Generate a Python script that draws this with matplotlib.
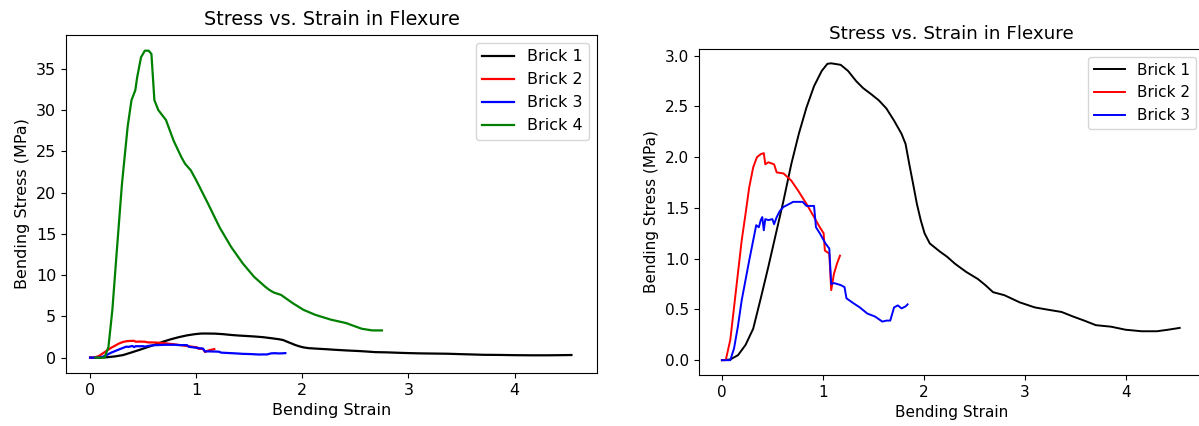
import matplotlib
matplotlib.use("Agg")
import matplotlib.pyplot as plt

# ---------------- data ----------------
brick1_x = [0.0, 0.083, 0.16, 0.234, 0.31, 0.385, 0.46, 0.536, 0.61, 0.687, 0.762, 0.838,
            0.913, 0.989, 1.045, 1.083, 1.177, 1.25, 1.33, 1.40, 1.48, 1.555, 1.63, 1.706,
            1.78, 1.82, 1.857, 1.894, 1.932, 1.97, 2.008, 2.06, 2.16, 2.23, 2.31, 2.42,
            2.536, 2.61, 2.687, 2.8, 2.95, 3.10, 3.215, 3.366, 3.48, 3.59, 3.705, 3.856,
            4.0, 4.16, 4.31, 4.42, 4.536]
brick1_y = [0.0, 0.007, 0.05, 0.15, 0.31, 0.61, 0.92, 1.25, 1.57, 1.93, 2.23, 2.49,
            2.70, 2.85, 2.92, 2.925, 2.91, 2.85, 2.75, 2.68, 2.62, 2.56, 2.48, 2.36,
            2.23, 2.13, 1.93, 1.74, 1.54, 1.38, 1.25, 1.15, 1.07, 1.02, 0.95, 0.87,
            0.80, 0.74, 0.67, 0.64, 0.57, 0.52, 0.50, 0.475, 0.43, 0.39, 0.345, 0.33,
            0.30, 0.285, 0.285, 0.30, 0.318]

brick2_x = [0.0, 0.038, 0.083, 0.12, 0.158, 0.196, 0.234, 0.27, 0.31, 0.347, 0.385, 0.415,
            0.43, 0.46, 0.517, 0.543, 0.61, 0.687, 0.762, 0.838, 0.913, 0.97, 1.008,
            1.02, 1.064, 1.083, 1.11, 1.14, 1.17]
brick2_y = [0.0, 0.0, 0.2, 0.52, 0.85, 1.18, 1.44, 1.70, 1.90, 2.00, 2.03, 2.04,
            1.93, 1.95, 1.93, 1.85, 1.84, 1.77, 1.66, 1.54, 1.41, 1.31, 1.25,
            1.08, 1.05, 0.69, 0.85, 0.95, 1.03]

brick3_x = [0.0, 0.083, 0.12, 0.158, 0.196, 0.234, 0.27, 0.31, 0.34, 0.366, 0.385, 0.40,
            0.415, 0.43, 0.46, 0.50, 0.517, 0.543, 0.574, 0.61, 0.65, 0.706, 0.80, 0.838,
            0.913, 0.932, 0.97, 1.026, 1.064, 1.083, 1.11, 1.177, 1.215, 1.234, 1.29,
            1.366, 1.44, 1.517, 1.59, 1.63, 1.668, 1.706, 1.743, 1.78, 1.82, 1.84]
brick3_y = [0.0, 0.0, 0.115, 0.33, 0.59, 0.79, 0.98, 1.18, 1.33, 1.31, 1.38, 1.41,
            1.28, 1.39, 1.38, 1.39, 1.34, 1.41, 1.47, 1.51, 1.53, 1.56, 1.56, 1.52,
            1.52, 1.31, 1.25, 1.15, 1.10, 0.75, 0.76, 0.74, 0.72, 0.61, 0.57,
            0.52, 0.46, 0.43, 0.38, 0.39, 0.39, 0.52, 0.54, 0.51, 0.53, 0.55]

brick4_x = [0.05, 0.137, 0.173, 0.21, 0.245, 0.30, 0.354, 0.39, 0.426, 0.444, 0.48, 0.516,
            0.552, 0.578, 0.606, 0.643, 0.715, 0.787, 0.86, 0.895, 0.949, 1.00, 1.11,
            1.22, 1.33, 1.44, 1.545, 1.65, 1.69, 1.73, 1.80, 1.91, 2.01, 2.12, 2.27,
            2.41, 2.56, 2.66, 2.75]
brick4_y = [0.0, 0.0, 1.3, 5.8, 11.8, 21.0, 28.0, 31.2, 32.4, 34.0, 36.4, 37.2,
            37.2, 36.8, 31.2, 30.0, 28.8, 26.3, 24.3, 23.5, 22.7, 21.5, 18.7,
            15.8, 13.4, 11.4, 9.8, 8.6, 8.2, 7.9, 7.6, 6.6, 5.8, 5.2, 4.6,
            4.2, 3.5, 3.3, 3.3]

labels = ["Brick 1", "Brick 2", "Brick 3", "Brick 4"]
colors = ["k", "r", "b", "g"]
title = "Stress vs. Strain in Flexure"
xlabel = "Bending Strain"
ylabel = "Bending Stress (MPa)"

W, H = 1199, 426
fig = plt.figure(figsize=(W / 100, H / 100), dpi=100)

def px_axes(x0, y0, x1, y1):
    return fig.add_axes([x0 / W, 1 - y1 / H, (x1 - x0) / W, (y1 - y0) / H])

# ---------------- left chart ----------------
ax1 = px_axes(66, 35, 597, 373)
series = [(brick1_x, brick1_y), (brick2_x, brick2_y), (brick3_x, brick3_y), (brick4_x, brick4_y)]
for (xs, ys), lab, c in zip(series, labels, colors):
    ax1.plot(xs, ys, color=c, lw=1.6, label=lab)
ax1.set_xlim(-0.227, 4.777)
ax1.set_ylim(-1.86, 39.1)
ax1.set_xticks([0, 1, 2, 3, 4])
ax1.set_yticks([0, 5, 10, 15, 20, 25, 30, 35])
ax1.set_title(title, fontsize=13.8, pad=7)
ax1.set_xlabel(xlabel, fontsize=11.5)
ax1.set_ylabel(ylabel, fontsize=11.5)
ax1.tick_params(labelsize=11.5)
ax1.legend(loc="upper right", fontsize=11.5)

# ---------------- right chart ----------------
ax2 = px_axes(699, 49, 1204, 375)
for (xs, ys), lab, c in zip(series[:3], labels[:3], colors[:3]):
    ax2.plot(xs, ys, color=c, lw=1.4, label=lab)
ax2.set_xlim(-0.227, 4.777)
ax2.set_ylim(-0.146, 3.066)
ax2.set_xticks([0, 1, 2, 3, 4])
ax2.set_yticks([0.0, 0.5, 1.0, 1.5, 2.0, 2.5, 3.0])
ax2.set_title(title, fontsize=13.2, pad=7)
ax2.set_xlabel(xlabel, fontsize=11)
ax2.set_ylabel(ylabel, fontsize=11)
ax2.tick_params(labelsize=11)
ax2.legend(loc="upper right", fontsize=11)

fig.savefig("out.png", dpi=100)
